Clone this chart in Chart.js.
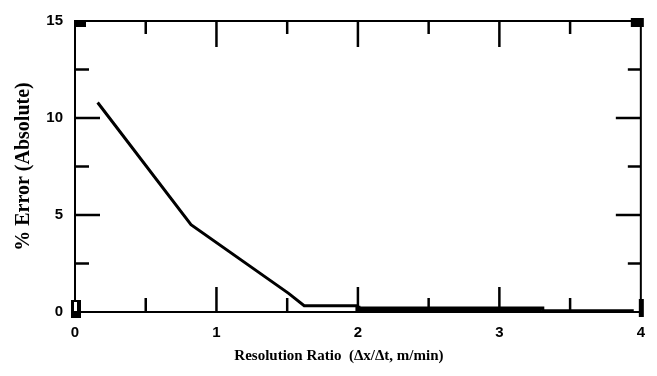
<!DOCTYPE html>
<html>
<head>
<meta charset="utf-8">
<script src="https://cdn.jsdelivr.net/npm/chart.js@4.4.1/dist/chart.umd.min.js"></script>
<style>
  html, body { margin: 0; padding: 0; background: #fff; }
  canvas { display: block; }
</style>
</head>
<body>
<canvas id="c" width="657" height="376"></canvas>
<script>
// ---- data ----
const resolutionRatio = [0.16, 0.82, 1.51, 1.62, 2.0, 2.0, 3.3, 3.3, 3.95];
const errorPercent    = [10.8, 4.5, 0.96, 0.32, 0.32, 0.15, 0.15, 0.06, 0.06];

const xMajorTicks = [1, 2, 3];
const xMinorTicks = [0.5, 1.5, 2.5, 3.5];
const yMajorTicks = [5, 10];
const yMinorTicks = [2.5, 7.5, 12.5];

const xTitle = 'Resolution Ratio  (\u0394x/\u0394t, m/min)';
const yTitle = '% Error (Absolute)';

const points = resolutionRatio.map((x, i) => ({ x: x, y: errorPercent[i] }));

const frameTicks = {
  id: 'frameTicks',
  afterDraw(chart) {
    const { ctx, chartArea: a, scales: { x, y } } = chart;
    ctx.save();
    ctx.strokeStyle = '#000';
    ctx.fillStyle = '#000';
    ctx.lineWidth = 2;
    ctx.strokeRect(a.left, a.top, a.right - a.left, a.bottom - a.top);
    ctx.lineWidth = 2.5;
    const seg = (x1, y1, x2, y2) => { ctx.beginPath(); ctx.moveTo(x1, y1); ctx.lineTo(x2, y2); ctx.stroke(); };
    xMajorTicks.forEach(v => { const p = x.getPixelForValue(v); seg(p, a.bottom, p, a.bottom - 25); seg(p, a.top, p, a.top + 26); });
    xMinorTicks.forEach(v => { const p = x.getPixelForValue(v); seg(p, a.bottom, p, a.bottom - 14); seg(p, a.top, p, a.top + 13); });
    yMajorTicks.forEach(v => { const p = y.getPixelForValue(v); seg(a.left, p, a.left + 25, p); seg(a.right, p, a.right - 25, p); });
    yMinorTicks.forEach(v => { const p = y.getPixelForValue(v); seg(a.left, p, a.left + 14, p); seg(a.right, p, a.right - 13, p); });
    // corner marks of the original plot
    ctx.fillRect(a.left, a.top, 11, 6);
    ctx.fillRect(a.right - 10, a.top - 3, 13, 9);
    ctx.fillRect(a.left - 4, a.bottom - 12, 10, 18);
    ctx.fillStyle = '#fff';
    ctx.fillRect(a.left - 1, a.bottom - 10, 3, 9);
    ctx.fillStyle = '#000';
    ctx.fillRect(a.right - 2, a.bottom - 13, 5, 18);
    // x axis title
    ctx.font = 'bold 15px "Liberation Serif"';
    ctx.textAlign = 'center';
    ctx.textBaseline = 'middle';
    ctx.fillText(xTitle, (a.left + a.right) / 2 - 19, 356);
    ctx.restore();
  }
};

new Chart(document.getElementById('c'), {
  type: 'line',
  data: {
    datasets: [{
      data: points,
      borderColor: '#000',
      borderWidth: 3,
      pointRadius: 0,
      tension: 0,
      fill: false,
      segment: {
        borderWidth: c => (c.p0.parsed.x >= 2 && c.p1.parsed.x <= 3.3) ? 5 : 3
      }
    }]
  },
  options: {
    responsive: false,
    devicePixelRatio: 1,
    animation: false,
    layout: { padding: { top: 17, right: 14, left: 0, bottom: 0 } },
    plugins: { legend: { display: false }, tooltip: { enabled: false } },
    scales: {
      x: {
        type: 'linear', min: 0, max: 4,
        grid: { display: false, drawTicks: false },
        border: { display: false },
        ticks: { stepSize: 1, padding: 12, color: '#000', font: { family: 'Liberation Sans', weight: 'bold', size: 15 } },
        afterFit: s => { s.height = 64; }
      },
      y: {
        min: 0, max: 15,
        grid: { display: false, drawTicks: false },
        border: { display: false },
        ticks: { stepSize: 5, padding: 12, color: '#000', font: { family: 'Liberation Sans', weight: 'bold', size: 15 } },
        title: { display: true, text: yTitle, color: '#000', padding: { top: 12, bottom: 0 },
                 font: { family: 'Liberation Serif', weight: 'bold', size: 20 } },
        afterFit: s => { s.width = 75; }
      }
    }
  },
  plugins: [frameTicks]
});
</script>
</body>
</html>
